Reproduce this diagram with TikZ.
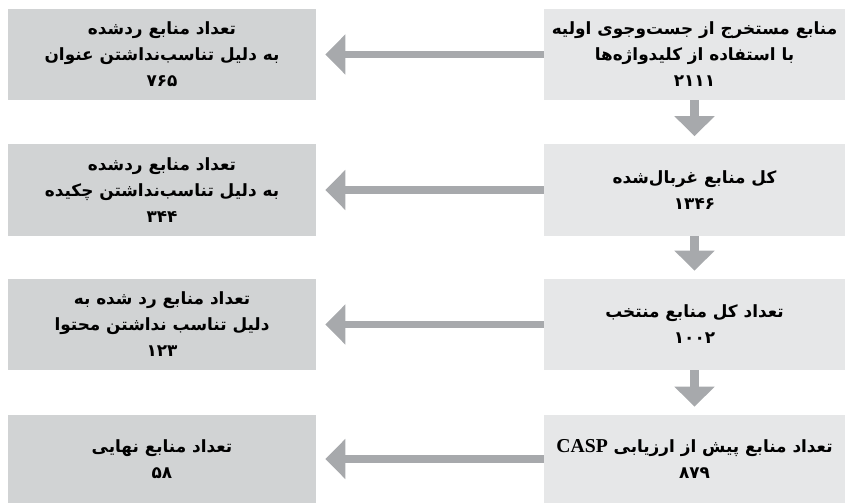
\documentclass[tikz,border=0pt]{standalone}
\usepackage{fontspec}
\newfontfamily\farsi[Script=Arabic]{DejaVu Sans}
\newfontfamily\latinserif{Liberation Serif}
\TeXXeTstate=1
\usepackage{tikz}
\usetikzlibrary{arrows.meta}
\definecolor{boxlight}{HTML}{E6E7E8}
\definecolor{boxdark}{HTML}{D1D3D4}
\definecolor{arrowgray}{HTML}{A7A9AC}
\newcommand{\fa}[1]{\beginR#1\endR}

\begin{document}
\begin{tikzpicture}[
    x=0.025cm,y=-0.025cm,
    stepbox/.style={fill=boxlight,minimum width=7.525cm,minimum height=2.275cm,
      inner sep=0pt,align=center,font=\farsi\bfseries\fontsize{12}{18.5}\selectfont},
    rejectbox/.style={stepbox,fill=boxdark,minimum width=7.7cm},
    flow/.style={arrowgray,line width=5.4pt,-{Triangle[length=0.5cm,width=0.975cm]},shorten >=0.225cm},
    flowdown/.style={flow,line width=6.6pt,shorten >=0.2cm}
  ]
    \useasboundingbox (0,0) rectangle (846,503);

    % main column
    \node[stepbox] (src) at (694.5,54.5)
      {\fa{منابع مستخرج از جست^^^^200cوجوی اولیه}\\\fa{با استفاده از کلیدواژه^^^^200cها}\\\fa{۲۱۱۱}};
    \node[stepbox] (screen) at (694.5,190)
      {\fa{کل منابع غربال^^^^200cشده}\\\fa{۱۳۴۶}};
    \node[stepbox] (select) at (694.5,324.5)
      {\fa{تعداد کل منابع منتخب}\\\fa{۱۰۰۲}};
    \node[stepbox,minimum height=2.2cm] (casp) at (694.5,459)
      {\fa{تعداد منابع پیش از ارزیابی \beginL{\latinserif\fontsize{14}{18.5}\selectfont CASP}\endL}\\\fa{۸۷۹}};

    % rejected sources
    \node[rejectbox] (rej1) at (162,54.5)
      {\fa{تعداد منابع ردشده}\\\fa{به دلیل تناسب^^^^200cنداشتن عنوان}\\\fa{۷۶۵}};
    \node[rejectbox] (rej2) at (162,190)
      {\fa{تعداد منابع ردشده}\\\fa{به دلیل تناسب^^^^200cنداشتن چکیده}\\\fa{۳۴۴}};
    \node[rejectbox] (rej3) at (162,324.5)
      {\fa{تعداد منابع رد شده به}\\\fa{دلیل تناسب نداشتن محتوا}\\\fa{۱۲۳}};
    \node[rejectbox,minimum height=2.2cm] (final) at (162,459)
      {\fa{تعداد منابع نهایی}\\\fa{۵۸}};

    % arrows
    \draw[flowdown] (src) -- (screen);
    \draw[flowdown] (screen) -- (select);
    \draw[flowdown] (select) -- (casp);
    \draw[flow] (src) -- (rej1);
    \draw[flow] (screen) -- (rej2);
    \draw[flow] (select) -- (rej3);
    \draw[flow] (casp) -- (final);
  \end{tikzpicture}
\end{document}
